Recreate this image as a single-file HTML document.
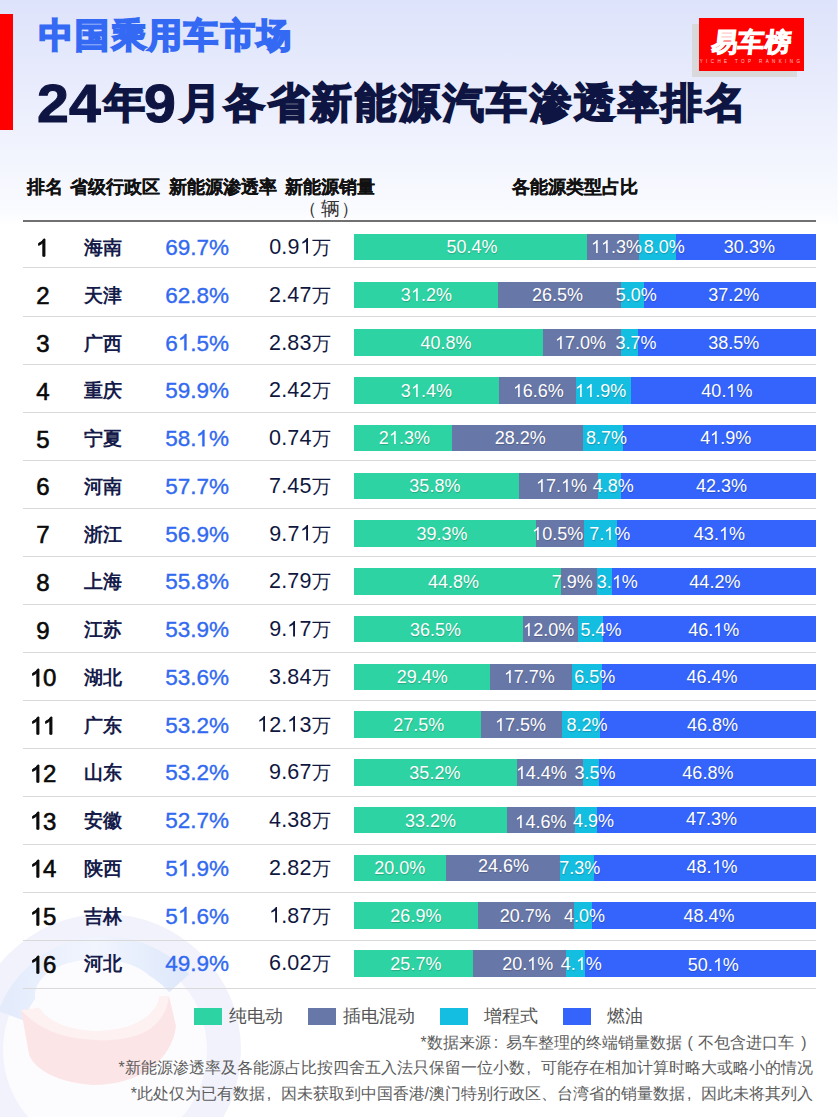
<!DOCTYPE html>
<html><head><meta charset="utf-8">
<style>
*{margin:0;padding:0;box-sizing:border-box}
html,body{width:838px;height:1117px;overflow:hidden}
body{position:relative;font-family:"Liberation Sans",sans-serif;background:linear-gradient(180deg,#dde3fb 0px,#e8ebfc 80px,#f3f5fe 160px,#fafbff 212px,#ffffff 226px);}
.dg{position:absolute;top:1.5px;font-size:53px;-webkit-text-stroke:1px #0e1543;transform:scaleX(1.08);transform-origin:0 0}
.cj{position:absolute;top:0}
.pc{display:inline-block;width:1em;text-align:left}
.d1{display:inline-block;width:0.556em;height:0.72em;vertical-align:baseline;overflow:visible}
#redbar{position:absolute;left:0;top:14px;width:13px;height:116px;background:#ff0000}
#t1{position:absolute;left:39px;top:11.5px;font-size:34px;letter-spacing:2.35px;font-weight:900;color:#3469f4;-webkit-text-stroke:2px #3469f4;white-space:nowrap;line-height:46px}
#t2{position:absolute;left:0;top:72px;font-size:41px;font-weight:900;color:#0e1543;-webkit-text-stroke:1.8px #0e1543;white-space:nowrap;line-height:60px}
.hd{position:absolute;font-size:18px;font-weight:bold;color:#111;white-space:nowrap;line-height:20px;-webkit-text-stroke:0.2px #111}
.hp{position:absolute;font-size:18px;color:#333;line-height:20px}
#hline{position:absolute;left:23px;top:220px;width:793px;height:2px;background:#707070}
.sep{position:absolute;left:23px;width:793px;height:1px;background:#d9d9d9}
.rk{position:absolute;left:23px;width:40px;text-align:center;font-size:24px;color:#0a0a0a;line-height:30px;-webkit-text-stroke:0.6px #0a0a0a}
.pv{position:absolute;left:84px;font-size:19px;font-weight:bold;color:#151b4a;line-height:30px;white-space:nowrap}
.pn{position:absolute;left:110px;width:119px;text-align:right;font-size:22.5px;color:#3169f0;line-height:31px;-webkit-text-stroke:0.35px #3169f0}
.sl{position:absolute;left:200px;width:131px;letter-spacing:0.15px;text-align:right;font-size:21.5px;color:#10173f;line-height:30px;white-space:nowrap}
.wan{font-size:18.5px;letter-spacing:0;margin-left:0.5px}
.seg{position:absolute;height:26.5px}
.lbl{position:absolute;width:80px;text-align:center;font-size:18px;color:#fff;line-height:26px;text-shadow:0.5px 0.5px 1px rgba(0,0,0,0.2);white-space:nowrap}
.lg{position:absolute;top:1008px;width:28px;height:16.5px}
.lt{position:absolute;top:1004px;font-size:18px;color:#555;line-height:24px;white-space:nowrap}
.fn{position:absolute;right:26px;font-size:15.82px;color:#5c5c5c;line-height:22px;white-space:nowrap}
#logo{position:absolute;left:699px;top:18px;width:105px;height:53px;background:#ff0000;overflow:hidden}
#logosh{position:absolute;left:692px;top:24px;width:105px;height:53px;background:#d9d9dc}
</style></head><body>
<svg style="position:absolute;left:0;top:880px" width="320" height="237" viewBox="0 880 320 237">
<circle cx="105" cy="1050" r="136" fill="#f1f2fb"/>
<circle cx="105" cy="1050" r="102" fill="#fcfcff"/>
<defs><linearGradient id="bg1" x1="0" y1="0" x2="1" y2="0"><stop offset="0" stop-color="#e4ecfc"/><stop offset="0.5" stop-color="#f1f5fe"/><stop offset="1" stop-color="#dfe9fb"/></linearGradient></defs><path d="M 11 1015.8 A 100 100 0 0 1 179.3 983.1" fill="none" stroke="url(#bg1)" stroke-width="27"/>
<path d="M 21 1010 L 169 996 L 176 1026 C 172 1060 140 1085 93 1085 C 50 1082 32 1065 29 1054 Z" fill="#fce5e7"/>
<path d="M 21 1010 L 169 996 C 165 1030 135 1042 95 1040 C 55 1038 35 1025 21 1010 Z" fill="#fdf1f2"/>
<ellipse cx="97" cy="995" rx="62" ry="36" fill="#fcfcff"/>
</svg>
<div id="redbar"></div>
<div style="position:absolute;right:0;top:0;width:1px;height:215px;background:rgba(255,255,255,.45)"></div>
<div id="t1">中国乘用车市场</div>
<div id="t2"><span class="dg" style="left:37px">2</span><span class="dg" style="left:69px">4</span><span class="cj" style="left:104px;top:1px">年</span><span class="dg" style="left:144px">9</span><span class="cj" style="left:180px;top:1px;letter-spacing:2.75px">月各省新能源汽车渗透率排名</span></div>
<div id="logosh"></div>
<div id="logo"><div style="position:absolute;left:0;top:8px;width:105px;text-align:center;font-size:26px;letter-spacing:0.5px;font-weight:900;color:#fff;line-height:32px;-webkit-text-stroke:1.1px #fff;transform:skewX(-7deg)">易车榜</div>
<div style="position:absolute;left:0;top:40px;width:105px;text-align:center;font-size:4.5px;color:#fff;opacity:.75;letter-spacing:3.4px;line-height:8px">YICHE TOP RANKING</div></div>
<div class="hd" style="left:26.5px;top:177px">排名</div>
<div class="hd" style="left:69.5px;top:177px">省级行政区</div>
<div class="hd" style="left:168.5px;top:177px">新能源渗透率</div>
<div class="hd" style="left:284.5px;top:177px">新能源销量</div>
<div class="hp" style="left:298.5px;top:199px">（</div>
<div class="hp" style="left:320.5px;top:198.5px;font-size:19px">辆</div>
<div class="hp" style="left:341px;top:199px">）</div>
<div class="hd" style="left:511.5px;top:177px">各能源类型占比</div>
<div id="hline"></div>
<div class="sep" style="top:267.4px"></div>
<div class="rk" style="top:233.4px"><svg class="d1" viewBox="0 0 556 720"><path d="M 372.6 720 L 284.7 720 L 284.7 160 Q 252.9 190.2 201.2 220.5 Q 149.4 250.8 107.9 266.4 L 107.9 181.4 Q 182.6 146.3 238.3 96.5 Q 294 46.7 317.4 0 L 372.6 0 Z" fill="currentColor" stroke="currentColor" stroke-width="40" stroke-linejoin="miter"/></svg></div>
<div class="pv" style="top:232.9px">海南</div>
<div class="pn" style="top:231.9px">69.7%</div>
<div class="sl" style="top:231.9px">0.9<svg class="d1" viewBox="0 0 556 720"><path d="M 372.6 720 L 284.7 720 L 284.7 160 Q 252.9 190.2 201.2 220.5 Q 149.4 250.8 107.9 266.4 L 107.9 181.4 Q 182.6 146.3 238.3 96.5 Q 294 46.7 317.4 0 L 372.6 0 Z" fill="currentColor" stroke="currentColor" stroke-width="0" stroke-linejoin="miter"/></svg><span class="wan">万</span></div>
<div class="seg" style="left:354.00px;top:233.7px;width:232.85px;background:#2ed3a3"></div>
<div class="seg" style="left:586.85px;top:233.7px;width:52.21px;background:#6777a8"></div>
<div class="seg" style="left:639.05px;top:233.7px;width:36.96px;background:#13bee1"></div>
<div class="seg" style="left:676.01px;top:233.7px;width:139.99px;background:#3464fc"></div>
<div class="lbl" style="left:432.00px;top:234.4px">50.4%</div>
<div class="lbl" style="left:576.50px;top:234.4px"><svg class="d1" viewBox="0 0 556 720"><path d="M 372.6 720 L 284.7 720 L 284.7 160 Q 252.9 190.2 201.2 220.5 Q 149.4 250.8 107.9 266.4 L 107.9 181.4 Q 182.6 146.3 238.3 96.5 Q 294 46.7 317.4 0 L 372.6 0 Z" fill="currentColor" stroke="currentColor" stroke-width="0" stroke-linejoin="miter"/></svg><svg class="d1" viewBox="0 0 556 720"><path d="M 372.6 720 L 284.7 720 L 284.7 160 Q 252.9 190.2 201.2 220.5 Q 149.4 250.8 107.9 266.4 L 107.9 181.4 Q 182.6 146.3 238.3 96.5 Q 294 46.7 317.4 0 L 372.6 0 Z" fill="currentColor" stroke="currentColor" stroke-width="0" stroke-linejoin="miter"/></svg>.3%</div>
<div class="lbl" style="left:624.20px;top:234.4px">8.0%</div>
<div class="lbl" style="left:709.40px;top:234.4px">30.3%</div><div class="sep" style="top:315.5px"></div>
<div class="rk" style="top:281.2px">2</div>
<div class="pv" style="top:280.7px">天津</div>
<div class="pn" style="top:279.7px">62.8%</div>
<div class="sl" style="top:279.7px">2.47<span class="wan">万</span></div>
<div class="seg" style="left:354.00px;top:281.5px;width:144.14px;background:#2ed3a3"></div>
<div class="seg" style="left:498.14px;top:281.5px;width:122.43px;background:#6777a8"></div>
<div class="seg" style="left:620.57px;top:281.5px;width:23.10px;background:#13bee1"></div>
<div class="seg" style="left:643.67px;top:281.5px;width:172.33px;background:#3464fc"></div>
<div class="lbl" style="left:386.40px;top:282.2px">3<svg class="d1" viewBox="0 0 556 720"><path d="M 372.6 720 L 284.7 720 L 284.7 160 Q 252.9 190.2 201.2 220.5 Q 149.4 250.8 107.9 266.4 L 107.9 181.4 Q 182.6 146.3 238.3 96.5 Q 294 46.7 317.4 0 L 372.6 0 Z" fill="currentColor" stroke="currentColor" stroke-width="0" stroke-linejoin="miter"/></svg>.2%</div>
<div class="lbl" style="left:517.50px;top:282.2px">26.5%</div>
<div class="lbl" style="left:596.20px;top:282.2px">5.0%</div>
<div class="lbl" style="left:693.70px;top:282.2px">37.2%</div><div class="sep" style="top:363.5px"></div>
<div class="rk" style="top:329.0px">3</div>
<div class="pv" style="top:328.5px">广西</div>
<div class="pn" style="top:327.5px">6<svg class="d1" viewBox="0 0 556 720"><path d="M 372.6 720 L 284.7 720 L 284.7 160 Q 252.9 190.2 201.2 220.5 Q 149.4 250.8 107.9 266.4 L 107.9 181.4 Q 182.6 146.3 238.3 96.5 Q 294 46.7 317.4 0 L 372.6 0 Z" fill="currentColor" stroke="currentColor" stroke-width="22" stroke-linejoin="miter"/></svg>.5%</div>
<div class="sl" style="top:327.5px">2.83<span class="wan">万</span></div>
<div class="seg" style="left:354.00px;top:329.2px;width:188.50px;background:#2ed3a3"></div>
<div class="seg" style="left:542.50px;top:329.2px;width:78.54px;background:#6777a8"></div>
<div class="seg" style="left:621.04px;top:329.2px;width:17.09px;background:#13bee1"></div>
<div class="seg" style="left:638.13px;top:329.2px;width:177.87px;background:#3464fc"></div>
<div class="lbl" style="left:406.10px;top:329.9px">40.8%</div>
<div class="lbl" style="left:540.50px;top:329.9px"><svg class="d1" viewBox="0 0 556 720"><path d="M 372.6 720 L 284.7 720 L 284.7 160 Q 252.9 190.2 201.2 220.5 Q 149.4 250.8 107.9 266.4 L 107.9 181.4 Q 182.6 146.3 238.3 96.5 Q 294 46.7 317.4 0 L 372.6 0 Z" fill="currentColor" stroke="currentColor" stroke-width="0" stroke-linejoin="miter"/></svg>7.0%</div>
<div class="lbl" style="left:596.10px;top:329.9px">3.7%</div>
<div class="lbl" style="left:693.70px;top:329.9px">38.5%</div><div class="sep" style="top:411.6px"></div>
<div class="rk" style="top:376.7px">4</div>
<div class="pv" style="top:376.2px">重庆</div>
<div class="pn" style="top:375.2px">59.9%</div>
<div class="sl" style="top:375.2px">2.42<span class="wan">万</span></div>
<div class="seg" style="left:354.00px;top:377.0px;width:145.07px;background:#2ed3a3"></div>
<div class="seg" style="left:499.07px;top:377.0px;width:76.69px;background:#6777a8"></div>
<div class="seg" style="left:575.76px;top:377.0px;width:54.98px;background:#13bee1"></div>
<div class="seg" style="left:630.74px;top:377.0px;width:185.26px;background:#3464fc"></div>
<div class="lbl" style="left:386.40px;top:377.7px">3<svg class="d1" viewBox="0 0 556 720"><path d="M 372.6 720 L 284.7 720 L 284.7 160 Q 252.9 190.2 201.2 220.5 Q 149.4 250.8 107.9 266.4 L 107.9 181.4 Q 182.6 146.3 238.3 96.5 Q 294 46.7 317.4 0 L 372.6 0 Z" fill="currentColor" stroke="currentColor" stroke-width="0" stroke-linejoin="miter"/></svg>.4%</div>
<div class="lbl" style="left:498.20px;top:377.7px"><svg class="d1" viewBox="0 0 556 720"><path d="M 372.6 720 L 284.7 720 L 284.7 160 Q 252.9 190.2 201.2 220.5 Q 149.4 250.8 107.9 266.4 L 107.9 181.4 Q 182.6 146.3 238.3 96.5 Q 294 46.7 317.4 0 L 372.6 0 Z" fill="currentColor" stroke="currentColor" stroke-width="0" stroke-linejoin="miter"/></svg>6.6%</div>
<div class="lbl" style="left:560.70px;top:377.7px"><svg class="d1" viewBox="0 0 556 720"><path d="M 372.6 720 L 284.7 720 L 284.7 160 Q 252.9 190.2 201.2 220.5 Q 149.4 250.8 107.9 266.4 L 107.9 181.4 Q 182.6 146.3 238.3 96.5 Q 294 46.7 317.4 0 L 372.6 0 Z" fill="currentColor" stroke="currentColor" stroke-width="0" stroke-linejoin="miter"/></svg><svg class="d1" viewBox="0 0 556 720"><path d="M 372.6 720 L 284.7 720 L 284.7 160 Q 252.9 190.2 201.2 220.5 Q 149.4 250.8 107.9 266.4 L 107.9 181.4 Q 182.6 146.3 238.3 96.5 Q 294 46.7 317.4 0 L 372.6 0 Z" fill="currentColor" stroke="currentColor" stroke-width="0" stroke-linejoin="miter"/></svg>.9%</div>
<div class="lbl" style="left:686.90px;top:377.7px">40.<svg class="d1" viewBox="0 0 556 720"><path d="M 372.6 720 L 284.7 720 L 284.7 160 Q 252.9 190.2 201.2 220.5 Q 149.4 250.8 107.9 266.4 L 107.9 181.4 Q 182.6 146.3 238.3 96.5 Q 294 46.7 317.4 0 L 372.6 0 Z" fill="currentColor" stroke="currentColor" stroke-width="0" stroke-linejoin="miter"/></svg>%</div><div class="sep" style="top:459.6px"></div>
<div class="rk" style="top:424.5px">5</div>
<div class="pv" style="top:424.0px">宁夏</div>
<div class="pn" style="top:423.0px">58.<svg class="d1" viewBox="0 0 556 720"><path d="M 372.6 720 L 284.7 720 L 284.7 160 Q 252.9 190.2 201.2 220.5 Q 149.4 250.8 107.9 266.4 L 107.9 181.4 Q 182.6 146.3 238.3 96.5 Q 294 46.7 317.4 0 L 372.6 0 Z" fill="currentColor" stroke="currentColor" stroke-width="22" stroke-linejoin="miter"/></svg>%</div>
<div class="sl" style="top:423.0px">0.74<span class="wan">万</span></div>
<div class="seg" style="left:354.00px;top:424.7px;width:98.41px;background:#2ed3a3"></div>
<div class="seg" style="left:452.41px;top:424.7px;width:130.28px;background:#6777a8"></div>
<div class="seg" style="left:582.69px;top:424.7px;width:40.19px;background:#13bee1"></div>
<div class="seg" style="left:622.88px;top:424.7px;width:193.12px;background:#3464fc"></div>
<div class="lbl" style="left:364.40px;top:425.4px">2<svg class="d1" viewBox="0 0 556 720"><path d="M 372.6 720 L 284.7 720 L 284.7 160 Q 252.9 190.2 201.2 220.5 Q 149.4 250.8 107.9 266.4 L 107.9 181.4 Q 182.6 146.3 238.3 96.5 Q 294 46.7 317.4 0 L 372.6 0 Z" fill="currentColor" stroke="currentColor" stroke-width="0" stroke-linejoin="miter"/></svg>.3%</div>
<div class="lbl" style="left:480.30px;top:425.4px">28.2%</div>
<div class="lbl" style="left:566.40px;top:425.4px">8.7%</div>
<div class="lbl" style="left:685.70px;top:425.4px">4<svg class="d1" viewBox="0 0 556 720"><path d="M 372.6 720 L 284.7 720 L 284.7 160 Q 252.9 190.2 201.2 220.5 Q 149.4 250.8 107.9 266.4 L 107.9 181.4 Q 182.6 146.3 238.3 96.5 Q 294 46.7 317.4 0 L 372.6 0 Z" fill="currentColor" stroke="currentColor" stroke-width="0" stroke-linejoin="miter"/></svg>.9%</div><div class="sep" style="top:507.7px"></div>
<div class="rk" style="top:472.2px">6</div>
<div class="pv" style="top:471.8px">河南</div>
<div class="pn" style="top:470.8px">57.7%</div>
<div class="sl" style="top:470.8px">7.45<span class="wan">万</span></div>
<div class="seg" style="left:354.00px;top:472.5px;width:165.40px;background:#2ed3a3"></div>
<div class="seg" style="left:519.40px;top:472.5px;width:79.00px;background:#6777a8"></div>
<div class="seg" style="left:598.40px;top:472.5px;width:22.18px;background:#13bee1"></div>
<div class="seg" style="left:620.57px;top:472.5px;width:195.43px;background:#3464fc"></div>
<div class="lbl" style="left:394.90px;top:473.2px">35.8%</div>
<div class="lbl" style="left:521.50px;top:473.2px"><svg class="d1" viewBox="0 0 556 720"><path d="M 372.6 720 L 284.7 720 L 284.7 160 Q 252.9 190.2 201.2 220.5 Q 149.4 250.8 107.9 266.4 L 107.9 181.4 Q 182.6 146.3 238.3 96.5 Q 294 46.7 317.4 0 L 372.6 0 Z" fill="currentColor" stroke="currentColor" stroke-width="0" stroke-linejoin="miter"/></svg>7.<svg class="d1" viewBox="0 0 556 720"><path d="M 372.6 720 L 284.7 720 L 284.7 160 Q 252.9 190.2 201.2 220.5 Q 149.4 250.8 107.9 266.4 L 107.9 181.4 Q 182.6 146.3 238.3 96.5 Q 294 46.7 317.4 0 L 372.6 0 Z" fill="currentColor" stroke="currentColor" stroke-width="0" stroke-linejoin="miter"/></svg>%</div>
<div class="lbl" style="left:573.20px;top:473.2px">4.8%</div>
<div class="lbl" style="left:681.50px;top:473.2px">42.3%</div><div class="sep" style="top:555.8px"></div>
<div class="rk" style="top:520.0px">7</div>
<div class="pv" style="top:519.5px">浙江</div>
<div class="pn" style="top:518.5px">56.9%</div>
<div class="sl" style="top:518.5px">9.7<svg class="d1" viewBox="0 0 556 720"><path d="M 372.6 720 L 284.7 720 L 284.7 160 Q 252.9 190.2 201.2 220.5 Q 149.4 250.8 107.9 266.4 L 107.9 181.4 Q 182.6 146.3 238.3 96.5 Q 294 46.7 317.4 0 L 372.6 0 Z" fill="currentColor" stroke="currentColor" stroke-width="0" stroke-linejoin="miter"/></svg><span class="wan">万</span></div>
<div class="seg" style="left:354.00px;top:520.3px;width:181.57px;background:#2ed3a3"></div>
<div class="seg" style="left:535.57px;top:520.3px;width:48.51px;background:#6777a8"></div>
<div class="seg" style="left:584.08px;top:520.3px;width:32.80px;background:#13bee1"></div>
<div class="seg" style="left:616.88px;top:520.3px;width:199.12px;background:#3464fc"></div>
<div class="lbl" style="left:402.00px;top:521.0px">39.3%</div>
<div class="lbl" style="left:517.70px;top:521.0px"><svg class="d1" viewBox="0 0 556 720"><path d="M 372.6 720 L 284.7 720 L 284.7 160 Q 252.9 190.2 201.2 220.5 Q 149.4 250.8 107.9 266.4 L 107.9 181.4 Q 182.6 146.3 238.3 96.5 Q 294 46.7 317.4 0 L 372.6 0 Z" fill="currentColor" stroke="currentColor" stroke-width="0" stroke-linejoin="miter"/></svg>0.5%</div>
<div class="lbl" style="left:569.80px;top:521.0px">7.<svg class="d1" viewBox="0 0 556 720"><path d="M 372.6 720 L 284.7 720 L 284.7 160 Q 252.9 190.2 201.2 220.5 Q 149.4 250.8 107.9 266.4 L 107.9 181.4 Q 182.6 146.3 238.3 96.5 Q 294 46.7 317.4 0 L 372.6 0 Z" fill="currentColor" stroke="currentColor" stroke-width="0" stroke-linejoin="miter"/></svg>%</div>
<div class="lbl" style="left:679.40px;top:521.0px">43.<svg class="d1" viewBox="0 0 556 720"><path d="M 372.6 720 L 284.7 720 L 284.7 160 Q 252.9 190.2 201.2 220.5 Q 149.4 250.8 107.9 266.4 L 107.9 181.4 Q 182.6 146.3 238.3 96.5 Q 294 46.7 317.4 0 L 372.6 0 Z" fill="currentColor" stroke="currentColor" stroke-width="0" stroke-linejoin="miter"/></svg>%</div><div class="sep" style="top:603.8px"></div>
<div class="rk" style="top:567.8px">8</div>
<div class="pv" style="top:567.3px">上海</div>
<div class="pn" style="top:566.3px">55.8%</div>
<div class="sl" style="top:566.3px">2.79<span class="wan">万</span></div>
<div class="seg" style="left:354.00px;top:568.0px;width:206.98px;background:#2ed3a3"></div>
<div class="seg" style="left:560.98px;top:568.0px;width:36.50px;background:#6777a8"></div>
<div class="seg" style="left:597.47px;top:568.0px;width:14.32px;background:#13bee1"></div>
<div class="seg" style="left:611.80px;top:568.0px;width:204.20px;background:#3464fc"></div>
<div class="lbl" style="left:413.50px;top:568.7px">44.8%</div>
<div class="lbl" style="left:532.20px;top:568.7px">7.9%</div>
<div class="lbl" style="left:577.20px;top:568.7px">3.<svg class="d1" viewBox="0 0 556 720"><path d="M 372.6 720 L 284.7 720 L 284.7 160 Q 252.9 190.2 201.2 220.5 Q 149.4 250.8 107.9 266.4 L 107.9 181.4 Q 182.6 146.3 238.3 96.5 Q 294 46.7 317.4 0 L 372.6 0 Z" fill="currentColor" stroke="currentColor" stroke-width="0" stroke-linejoin="miter"/></svg>%</div>
<div class="lbl" style="left:674.90px;top:568.7px">44.2%</div><div class="sep" style="top:651.9px"></div>
<div class="rk" style="top:615.5px">9</div>
<div class="pv" style="top:615.0px">江苏</div>
<div class="pn" style="top:614.0px">53.9%</div>
<div class="sl" style="top:614.0px">9.<svg class="d1" viewBox="0 0 556 720"><path d="M 372.6 720 L 284.7 720 L 284.7 160 Q 252.9 190.2 201.2 220.5 Q 149.4 250.8 107.9 266.4 L 107.9 181.4 Q 182.6 146.3 238.3 96.5 Q 294 46.7 317.4 0 L 372.6 0 Z" fill="currentColor" stroke="currentColor" stroke-width="0" stroke-linejoin="miter"/></svg>7<span class="wan">万</span></div>
<div class="seg" style="left:354.00px;top:615.8px;width:168.63px;background:#2ed3a3"></div>
<div class="seg" style="left:522.63px;top:615.8px;width:55.44px;background:#6777a8"></div>
<div class="seg" style="left:578.07px;top:615.8px;width:24.95px;background:#13bee1"></div>
<div class="seg" style="left:603.02px;top:615.8px;width:212.98px;background:#3464fc"></div>
<div class="lbl" style="left:395.50px;top:616.5px">36.5%</div>
<div class="lbl" style="left:508.70px;top:616.5px"><svg class="d1" viewBox="0 0 556 720"><path d="M 372.6 720 L 284.7 720 L 284.7 160 Q 252.9 190.2 201.2 220.5 Q 149.4 250.8 107.9 266.4 L 107.9 181.4 Q 182.6 146.3 238.3 96.5 Q 294 46.7 317.4 0 L 372.6 0 Z" fill="currentColor" stroke="currentColor" stroke-width="0" stroke-linejoin="miter"/></svg>2.0%</div>
<div class="lbl" style="left:561.00px;top:616.5px">5.4%</div>
<div class="lbl" style="left:673.80px;top:616.5px">46.<svg class="d1" viewBox="0 0 556 720"><path d="M 372.6 720 L 284.7 720 L 284.7 160 Q 252.9 190.2 201.2 220.5 Q 149.4 250.8 107.9 266.4 L 107.9 181.4 Q 182.6 146.3 238.3 96.5 Q 294 46.7 317.4 0 L 372.6 0 Z" fill="currentColor" stroke="currentColor" stroke-width="0" stroke-linejoin="miter"/></svg>%</div><div class="sep" style="top:699.9px"></div>
<div class="rk" style="top:663.3px"><svg class="d1" viewBox="0 0 556 720"><path d="M 372.6 720 L 284.7 720 L 284.7 160 Q 252.9 190.2 201.2 220.5 Q 149.4 250.8 107.9 266.4 L 107.9 181.4 Q 182.6 146.3 238.3 96.5 Q 294 46.7 317.4 0 L 372.6 0 Z" fill="currentColor" stroke="currentColor" stroke-width="40" stroke-linejoin="miter"/></svg>0</div>
<div class="pv" style="top:662.8px">湖北</div>
<div class="pn" style="top:661.8px">53.6%</div>
<div class="sl" style="top:661.8px">3.84<span class="wan">万</span></div>
<div class="seg" style="left:354.00px;top:663.5px;width:135.83px;background:#2ed3a3"></div>
<div class="seg" style="left:489.83px;top:663.5px;width:81.77px;background:#6777a8"></div>
<div class="seg" style="left:571.60px;top:663.5px;width:30.03px;background:#13bee1"></div>
<div class="seg" style="left:601.63px;top:663.5px;width:214.37px;background:#3464fc"></div>
<div class="lbl" style="left:382.30px;top:664.2px">29.4%</div>
<div class="lbl" style="left:489.20px;top:664.2px"><svg class="d1" viewBox="0 0 556 720"><path d="M 372.6 720 L 284.7 720 L 284.7 160 Q 252.9 190.2 201.2 220.5 Q 149.4 250.8 107.9 266.4 L 107.9 181.4 Q 182.6 146.3 238.3 96.5 Q 294 46.7 317.4 0 L 372.6 0 Z" fill="currentColor" stroke="currentColor" stroke-width="0" stroke-linejoin="miter"/></svg>7.7%</div>
<div class="lbl" style="left:554.70px;top:664.2px">6.5%</div>
<div class="lbl" style="left:672.10px;top:664.2px">46.4%</div><div class="sep" style="top:748.0px"></div>
<div class="rk" style="top:711.0px"><svg class="d1" viewBox="0 0 556 720"><path d="M 372.6 720 L 284.7 720 L 284.7 160 Q 252.9 190.2 201.2 220.5 Q 149.4 250.8 107.9 266.4 L 107.9 181.4 Q 182.6 146.3 238.3 96.5 Q 294 46.7 317.4 0 L 372.6 0 Z" fill="currentColor" stroke="currentColor" stroke-width="40" stroke-linejoin="miter"/></svg><svg class="d1" viewBox="0 0 556 720"><path d="M 372.6 720 L 284.7 720 L 284.7 160 Q 252.9 190.2 201.2 220.5 Q 149.4 250.8 107.9 266.4 L 107.9 181.4 Q 182.6 146.3 238.3 96.5 Q 294 46.7 317.4 0 L 372.6 0 Z" fill="currentColor" stroke="currentColor" stroke-width="40" stroke-linejoin="miter"/></svg></div>
<div class="pv" style="top:710.5px">广东</div>
<div class="pn" style="top:709.5px">53.2%</div>
<div class="sl" style="top:709.5px"><svg class="d1" viewBox="0 0 556 720"><path d="M 372.6 720 L 284.7 720 L 284.7 160 Q 252.9 190.2 201.2 220.5 Q 149.4 250.8 107.9 266.4 L 107.9 181.4 Q 182.6 146.3 238.3 96.5 Q 294 46.7 317.4 0 L 372.6 0 Z" fill="currentColor" stroke="currentColor" stroke-width="0" stroke-linejoin="miter"/></svg>2.<svg class="d1" viewBox="0 0 556 720"><path d="M 372.6 720 L 284.7 720 L 284.7 160 Q 252.9 190.2 201.2 220.5 Q 149.4 250.8 107.9 266.4 L 107.9 181.4 Q 182.6 146.3 238.3 96.5 Q 294 46.7 317.4 0 L 372.6 0 Z" fill="currentColor" stroke="currentColor" stroke-width="0" stroke-linejoin="miter"/></svg>3<span class="wan">万</span></div>
<div class="seg" style="left:354.00px;top:711.3px;width:127.05px;background:#2ed3a3"></div>
<div class="seg" style="left:481.05px;top:711.3px;width:80.85px;background:#6777a8"></div>
<div class="seg" style="left:561.90px;top:711.3px;width:37.88px;background:#13bee1"></div>
<div class="seg" style="left:599.78px;top:711.3px;width:216.22px;background:#3464fc"></div>
<div class="lbl" style="left:378.70px;top:712.0px">27.5%</div>
<div class="lbl" style="left:480.50px;top:712.0px"><svg class="d1" viewBox="0 0 556 720"><path d="M 372.6 720 L 284.7 720 L 284.7 160 Q 252.9 190.2 201.2 220.5 Q 149.4 250.8 107.9 266.4 L 107.9 181.4 Q 182.6 146.3 238.3 96.5 Q 294 46.7 317.4 0 L 372.6 0 Z" fill="currentColor" stroke="currentColor" stroke-width="0" stroke-linejoin="miter"/></svg>7.5%</div>
<div class="lbl" style="left:546.90px;top:712.0px">8.2%</div>
<div class="lbl" style="left:672.60px;top:712.0px">46.8%</div><div class="sep" style="top:796.1px"></div>
<div class="rk" style="top:758.8px"><svg class="d1" viewBox="0 0 556 720"><path d="M 372.6 720 L 284.7 720 L 284.7 160 Q 252.9 190.2 201.2 220.5 Q 149.4 250.8 107.9 266.4 L 107.9 181.4 Q 182.6 146.3 238.3 96.5 Q 294 46.7 317.4 0 L 372.6 0 Z" fill="currentColor" stroke="currentColor" stroke-width="40" stroke-linejoin="miter"/></svg>2</div>
<div class="pv" style="top:758.3px">山东</div>
<div class="pn" style="top:757.3px">53.2%</div>
<div class="sl" style="top:757.3px">9.67<span class="wan">万</span></div>
<div class="seg" style="left:354.00px;top:759.1px;width:162.62px;background:#2ed3a3"></div>
<div class="seg" style="left:516.62px;top:759.1px;width:66.53px;background:#6777a8"></div>
<div class="seg" style="left:583.15px;top:759.1px;width:16.17px;background:#13bee1"></div>
<div class="seg" style="left:599.32px;top:759.1px;width:216.68px;background:#3464fc"></div>
<div class="lbl" style="left:394.90px;top:759.8px">35.2%</div>
<div class="lbl" style="left:501.20px;top:759.8px"><svg class="d1" viewBox="0 0 556 720"><path d="M 372.6 720 L 284.7 720 L 284.7 160 Q 252.9 190.2 201.2 220.5 Q 149.4 250.8 107.9 266.4 L 107.9 181.4 Q 182.6 146.3 238.3 96.5 Q 294 46.7 317.4 0 L 372.6 0 Z" fill="currentColor" stroke="currentColor" stroke-width="0" stroke-linejoin="miter"/></svg>4.4%</div>
<div class="lbl" style="left:555.00px;top:759.8px">3.5%</div>
<div class="lbl" style="left:667.90px;top:759.8px">46.8%</div><div class="sep" style="top:844.1px"></div>
<div class="rk" style="top:806.6px"><svg class="d1" viewBox="0 0 556 720"><path d="M 372.6 720 L 284.7 720 L 284.7 160 Q 252.9 190.2 201.2 220.5 Q 149.4 250.8 107.9 266.4 L 107.9 181.4 Q 182.6 146.3 238.3 96.5 Q 294 46.7 317.4 0 L 372.6 0 Z" fill="currentColor" stroke="currentColor" stroke-width="40" stroke-linejoin="miter"/></svg>3</div>
<div class="pv" style="top:806.1px">安徽</div>
<div class="pn" style="top:805.1px">52.7%</div>
<div class="sl" style="top:805.1px">4.38<span class="wan">万</span></div>
<div class="seg" style="left:354.00px;top:806.8px;width:153.38px;background:#2ed3a3"></div>
<div class="seg" style="left:507.38px;top:806.8px;width:67.45px;background:#6777a8"></div>
<div class="seg" style="left:574.84px;top:806.8px;width:22.64px;background:#13bee1"></div>
<div class="seg" style="left:597.47px;top:806.8px;width:218.53px;background:#3464fc"></div>
<div class="lbl" style="left:390.50px;top:807.5px">33.2%</div>
<div class="lbl" style="left:501.00px;top:809.0px"><svg class="d1" viewBox="0 0 556 720"><path d="M 372.6 720 L 284.7 720 L 284.7 160 Q 252.9 190.2 201.2 220.5 Q 149.4 250.8 107.9 266.4 L 107.9 181.4 Q 182.6 146.3 238.3 96.5 Q 294 46.7 317.4 0 L 372.6 0 Z" fill="currentColor" stroke="currentColor" stroke-width="0" stroke-linejoin="miter"/></svg>4.6%</div>
<div class="lbl" style="left:553.60px;top:807.5px">4.9%</div>
<div class="lbl" style="left:671.50px;top:805.5px">47.3%</div><div class="sep" style="top:892.2px"></div>
<div class="rk" style="top:854.3px"><svg class="d1" viewBox="0 0 556 720"><path d="M 372.6 720 L 284.7 720 L 284.7 160 Q 252.9 190.2 201.2 220.5 Q 149.4 250.8 107.9 266.4 L 107.9 181.4 Q 182.6 146.3 238.3 96.5 Q 294 46.7 317.4 0 L 372.6 0 Z" fill="currentColor" stroke="currentColor" stroke-width="40" stroke-linejoin="miter"/></svg>4</div>
<div class="pv" style="top:853.8px">陕西</div>
<div class="pn" style="top:852.8px">5<svg class="d1" viewBox="0 0 556 720"><path d="M 372.6 720 L 284.7 720 L 284.7 160 Q 252.9 190.2 201.2 220.5 Q 149.4 250.8 107.9 266.4 L 107.9 181.4 Q 182.6 146.3 238.3 96.5 Q 294 46.7 317.4 0 L 372.6 0 Z" fill="currentColor" stroke="currentColor" stroke-width="22" stroke-linejoin="miter"/></svg>.9%</div>
<div class="sl" style="top:852.8px">2.82<span class="wan">万</span></div>
<div class="seg" style="left:354.00px;top:854.6px;width:92.40px;background:#2ed3a3"></div>
<div class="seg" style="left:446.40px;top:854.6px;width:113.65px;background:#6777a8"></div>
<div class="seg" style="left:560.05px;top:854.6px;width:33.73px;background:#13bee1"></div>
<div class="seg" style="left:593.78px;top:854.6px;width:222.22px;background:#3464fc"></div>
<div class="lbl" style="left:359.80px;top:855.3px">20.0%</div>
<div class="lbl" style="left:463.60px;top:852.8px">24.6%</div>
<div class="lbl" style="left:539.70px;top:855.3px">7.3%</div>
<div class="lbl" style="left:672.10px;top:854.3px">48.<svg class="d1" viewBox="0 0 556 720"><path d="M 372.6 720 L 284.7 720 L 284.7 160 Q 252.9 190.2 201.2 220.5 Q 149.4 250.8 107.9 266.4 L 107.9 181.4 Q 182.6 146.3 238.3 96.5 Q 294 46.7 317.4 0 L 372.6 0 Z" fill="currentColor" stroke="currentColor" stroke-width="0" stroke-linejoin="miter"/></svg>%</div><div class="sep" style="top:940.2px"></div>
<div class="rk" style="top:902.1px"><svg class="d1" viewBox="0 0 556 720"><path d="M 372.6 720 L 284.7 720 L 284.7 160 Q 252.9 190.2 201.2 220.5 Q 149.4 250.8 107.9 266.4 L 107.9 181.4 Q 182.6 146.3 238.3 96.5 Q 294 46.7 317.4 0 L 372.6 0 Z" fill="currentColor" stroke="currentColor" stroke-width="40" stroke-linejoin="miter"/></svg>5</div>
<div class="pv" style="top:901.6px">吉林</div>
<div class="pn" style="top:900.6px">5<svg class="d1" viewBox="0 0 556 720"><path d="M 372.6 720 L 284.7 720 L 284.7 160 Q 252.9 190.2 201.2 220.5 Q 149.4 250.8 107.9 266.4 L 107.9 181.4 Q 182.6 146.3 238.3 96.5 Q 294 46.7 317.4 0 L 372.6 0 Z" fill="currentColor" stroke="currentColor" stroke-width="22" stroke-linejoin="miter"/></svg>.6%</div>
<div class="sl" style="top:900.6px"><svg class="d1" viewBox="0 0 556 720"><path d="M 372.6 720 L 284.7 720 L 284.7 160 Q 252.9 190.2 201.2 220.5 Q 149.4 250.8 107.9 266.4 L 107.9 181.4 Q 182.6 146.3 238.3 96.5 Q 294 46.7 317.4 0 L 372.6 0 Z" fill="currentColor" stroke="currentColor" stroke-width="0" stroke-linejoin="miter"/></svg>.87<span class="wan">万</span></div>
<div class="seg" style="left:354.00px;top:902.3px;width:124.28px;background:#2ed3a3"></div>
<div class="seg" style="left:478.28px;top:902.3px;width:95.63px;background:#6777a8"></div>
<div class="seg" style="left:573.91px;top:902.3px;width:18.48px;background:#13bee1"></div>
<div class="seg" style="left:592.39px;top:902.3px;width:223.61px;background:#3464fc"></div>
<div class="lbl" style="left:375.90px;top:903.0px">26.9%</div>
<div class="lbl" style="left:485.30px;top:903.0px">20.7%</div>
<div class="lbl" style="left:544.40px;top:903.0px">4.0%</div>
<div class="lbl" style="left:669.00px;top:903.0px">48.4%</div><div class="sep" style="top:988.3px"></div>
<div class="rk" style="top:949.8px"><svg class="d1" viewBox="0 0 556 720"><path d="M 372.6 720 L 284.7 720 L 284.7 160 Q 252.9 190.2 201.2 220.5 Q 149.4 250.8 107.9 266.4 L 107.9 181.4 Q 182.6 146.3 238.3 96.5 Q 294 46.7 317.4 0 L 372.6 0 Z" fill="currentColor" stroke="currentColor" stroke-width="40" stroke-linejoin="miter"/></svg>6</div>
<div class="pv" style="top:949.3px">河北</div>
<div class="pn" style="top:948.3px">49.9%</div>
<div class="sl" style="top:948.3px">6.02<span class="wan">万</span></div>
<div class="seg" style="left:354.00px;top:950.1px;width:118.73px;background:#2ed3a3"></div>
<div class="seg" style="left:472.73px;top:950.1px;width:92.86px;background:#6777a8"></div>
<div class="seg" style="left:565.60px;top:950.1px;width:18.94px;background:#13bee1"></div>
<div class="seg" style="left:584.54px;top:950.1px;width:231.46px;background:#3464fc"></div>
<div class="lbl" style="left:375.90px;top:950.8px">25.7%</div>
<div class="lbl" style="left:487.80px;top:950.8px">20.<svg class="d1" viewBox="0 0 556 720"><path d="M 372.6 720 L 284.7 720 L 284.7 160 Q 252.9 190.2 201.2 220.5 Q 149.4 250.8 107.9 266.4 L 107.9 181.4 Q 182.6 146.3 238.3 96.5 Q 294 46.7 317.4 0 L 372.6 0 Z" fill="currentColor" stroke="currentColor" stroke-width="0" stroke-linejoin="miter"/></svg>%</div>
<div class="lbl" style="left:541.30px;top:950.8px">4.<svg class="d1" viewBox="0 0 556 720"><path d="M 372.6 720 L 284.7 720 L 284.7 160 Q 252.9 190.2 201.2 220.5 Q 149.4 250.8 107.9 266.4 L 107.9 181.4 Q 182.6 146.3 238.3 96.5 Q 294 46.7 317.4 0 L 372.6 0 Z" fill="currentColor" stroke="currentColor" stroke-width="0" stroke-linejoin="miter"/></svg>%</div>
<div class="lbl" style="left:673.20px;top:952.3px">50.<svg class="d1" viewBox="0 0 556 720"><path d="M 372.6 720 L 284.7 720 L 284.7 160 Q 252.9 190.2 201.2 220.5 Q 149.4 250.8 107.9 266.4 L 107.9 181.4 Q 182.6 146.3 238.3 96.5 Q 294 46.7 317.4 0 L 372.6 0 Z" fill="currentColor" stroke="currentColor" stroke-width="0" stroke-linejoin="miter"/></svg>%</div>
<div class="lg" style="left:194px;background:#2ed3a3"></div><div class="lt" style="left:229px">纯电动</div>
<div class="lg" style="left:308px;background:#6777a8"></div><div class="lt" style="left:343px">插电混动</div>
<div class="lg" style="left:440px;background:#13bee1"></div><div class="lt" style="left:484px">增程式</div>
<div class="lg" style="left:563px;background:#3464fc"></div><div class="lt" style="left:607px">燃油</div>
<div class="fn" style="top:1031.5px;right:28px">*数据来源<span class="pc" style="padding-left:0.2em">:</span>易车整理的终端销量数据<span class="pc" style="padding-left:0.33em">(</span>不包含进口车<span class="pc" style="padding-left:0.45em">)</span></div>
<div class="fn" style="top:1057px;right:25.5px">*新能源渗透率及各能源占比按四舍五入法只保留一位小数<span class="pc" style="padding-left:0.12em">,</span>可能存在相加计算时略大或略小的情况</div>
<div class="fn" style="top:1083px;right:25.2px">*此处仅为已有数据<span class="pc" style="padding-left:0.12em">,</span>因未获取到中国香港/澳门特别行政区、台湾省的销量数据<span class="pc" style="padding-left:0.12em">,</span>因此未将其列入</div>
</body></html>
